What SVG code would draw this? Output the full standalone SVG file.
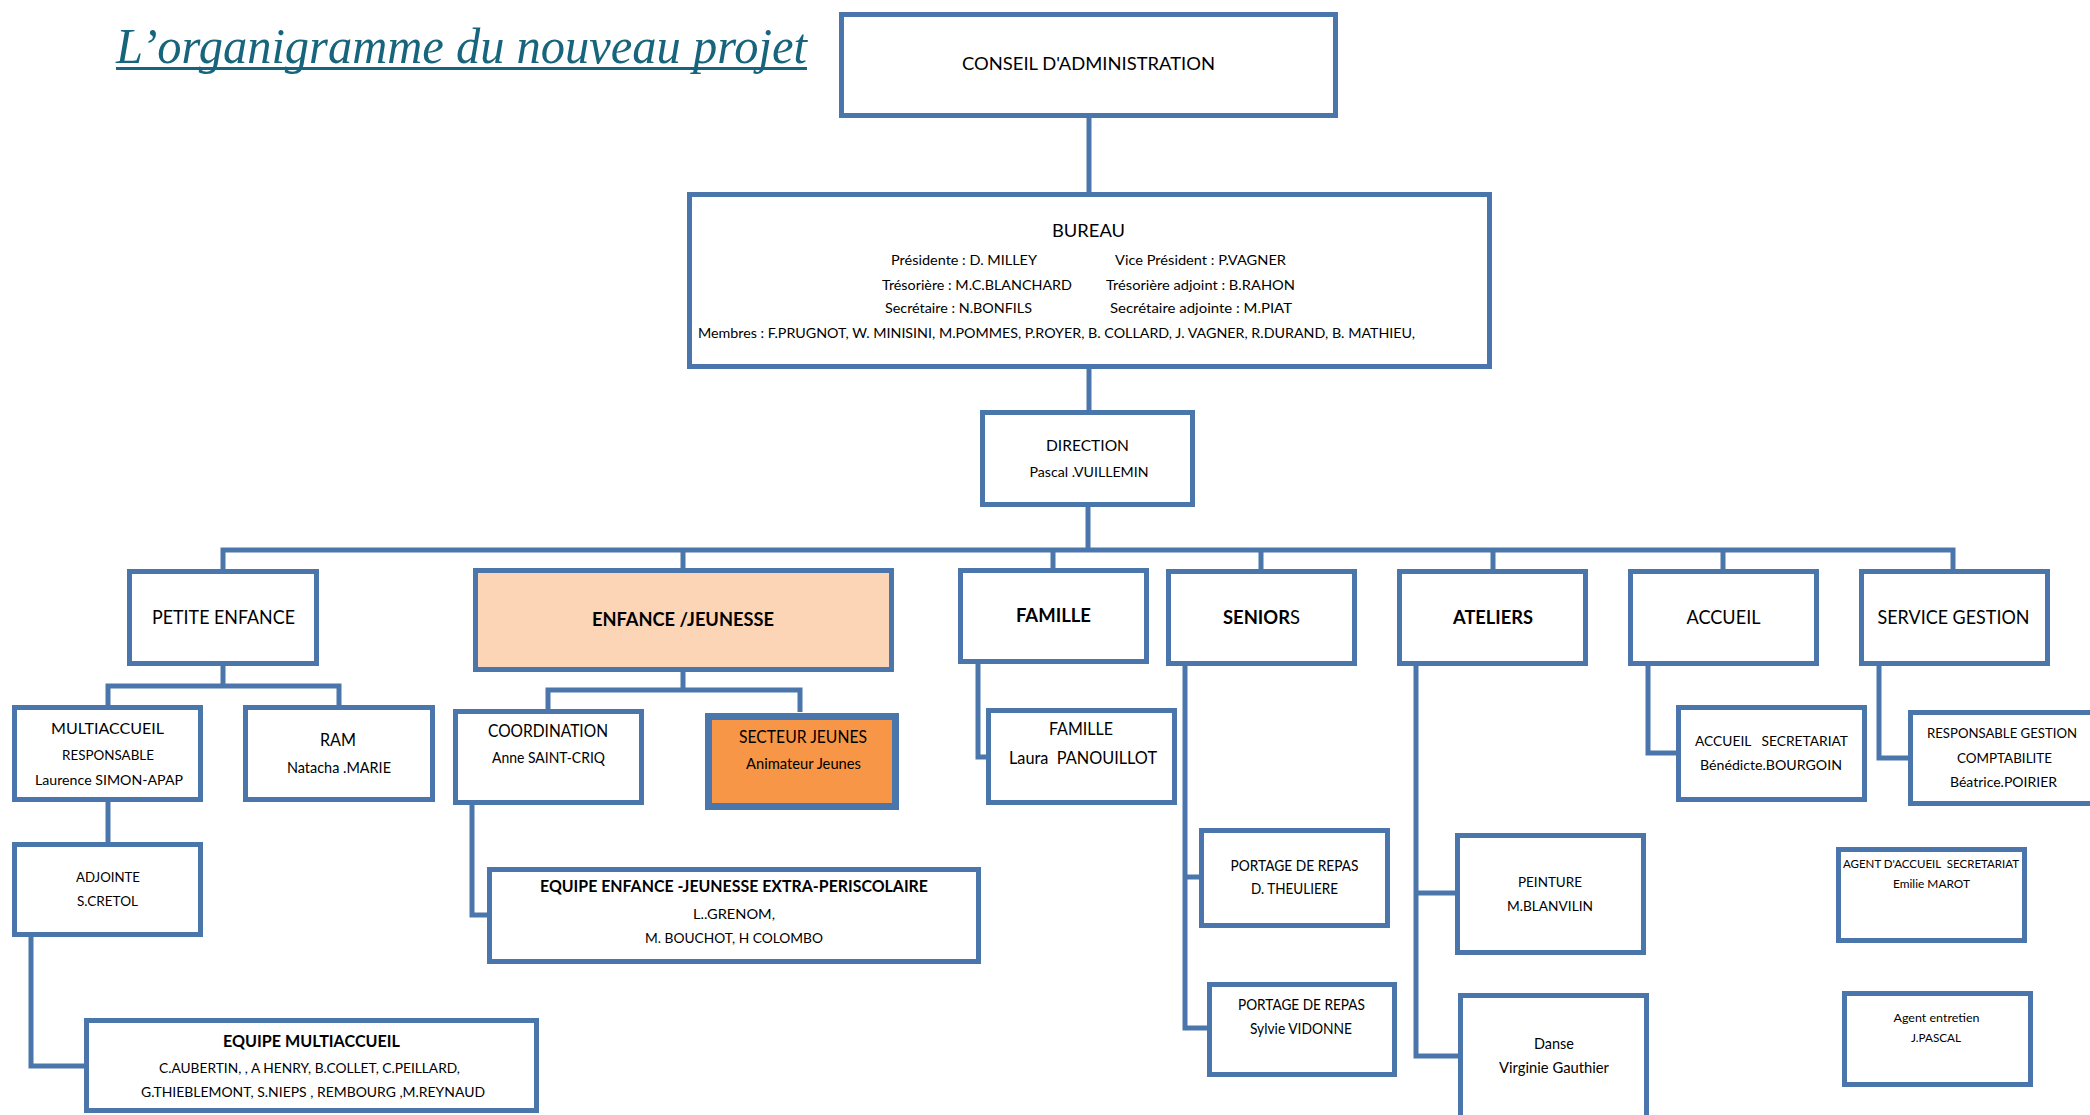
<svg xmlns="http://www.w3.org/2000/svg" width="2090" height="1115" viewBox="0 0 2090 1115">
<style>
.b{fill:#fff;stroke:#4A76AC;stroke-width:5}
.c{fill:none;stroke:#4A76AC;stroke-width:5;stroke-linejoin:miter}
text{font-family:Lato,"Open Sans","Liberation Sans",sans-serif;fill:#000;text-anchor:middle}
.bd{font-weight:bold}
.ttl{font-family:"Liberation Serif",serif;font-style:italic;fill:#17657D;text-anchor:start}
</style>
<rect width="2090" height="1115" fill="#fff"/>
<g id="title">
<text class="ttl" x="116" y="63" font-size="50" textLength="691" lengthAdjust="spacingAndGlyphs">L’organigramme du nouveau projet</text>
<line x1="116" y1="68.5" x2="807" y2="68.5" stroke="#17657D" stroke-width="3"/>
</g>
<g id="connectors">
<path class="c" d="M1089 118V192"/>
<path class="c" d="M1089 369V410"/>
<path class="c" d="M1088 507V550"/>
<path class="c" d="M223 569V550H1953V569"/>
<path class="c" d="M683 550V568M1053 550V568M1261 550V569M1493 550V569M1723 550V569"/>
<path class="c" d="M223 666V686M108 705V686H339V705"/>
<path class="c" d="M108 802V842"/>
<path class="c" d="M31 937V1066H84"/>
<path class="c" d="M683 672V690M548 709V690H800V712"/>
<path class="c" d="M472 805V915H487"/>
<path class="c" d="M978 664V757H986"/>
<path class="c" d="M1185 666V1028H1207M1185 877H1199"/>
<path class="c" d="M1416 666V1056H1458M1416 893H1455"/>
<path class="c" d="M1648 666V753H1676"/>
<path class="c" d="M1879 666V758H1908"/>
</g>
<g id="conseil">
<rect class="b" x="841.5" y="14.5" width="494" height="101"/>
<text x="1088.5" y="70" font-size="17.7" textLength="253" lengthAdjust="spacingAndGlyphs">CONSEIL D'ADMINISTRATION</text>
</g>
<g id="bureau">
<rect class="b" x="689.5" y="194.5" width="800" height="172"/>
<text x="1088.5" y="237" font-size="17.7" textLength="73" lengthAdjust="spacingAndGlyphs">BUREAU</text>
<text x="964" y="265" font-size="14" textLength="146" lengthAdjust="spacingAndGlyphs">Présidente : D. MILLEY</text>
<text x="1200.5" y="265" font-size="14" textLength="171" lengthAdjust="spacingAndGlyphs">Vice Président : P.VAGNER</text>
<text x="977" y="290" font-size="14" textLength="190" lengthAdjust="spacingAndGlyphs">Trésorière : M.C.BLANCHARD</text>
<text x="1200.5" y="290" font-size="14" textLength="189" lengthAdjust="spacingAndGlyphs">Trésorière adjoint : B.RAHON</text>
<text x="958.5" y="313" font-size="14" textLength="147" lengthAdjust="spacingAndGlyphs">Secrétaire : N.BONFILS</text>
<text x="1201" y="313" font-size="14" textLength="182" lengthAdjust="spacingAndGlyphs">Secrétaire adjointe : M.PIAT</text>
<text x="1056.5" y="338" font-size="14" textLength="717" lengthAdjust="spacingAndGlyphs">Membres : F.PRUGNOT, W. MINISINI, M.POMMES, P.ROYER, B. COLLARD, J. VAGNER, R.DURAND, B. MATHIEU,</text>
</g>
<g id="direction">
<rect class="b" x="982.5" y="412.5" width="210" height="92"/>
<text x="1087.5" y="451" font-size="15.3" textLength="83" lengthAdjust="spacingAndGlyphs">DIRECTION</text>
<text x="1089" y="477" font-size="14" textLength="119" lengthAdjust="spacingAndGlyphs">Pascal .VUILLEMIN</text>
</g>
<g id="petite-enfance">
<rect class="b" x="129.5" y="571.5" width="187" height="92"/>
<text x="223.5" y="624" font-size="18.5" textLength="143" lengthAdjust="spacingAndGlyphs">PETITE ENFANCE</text>
</g>
<g id="enfance-jeunesse">
<rect class="b" x="475.5" y="570.5" width="416" height="99" style="fill:#FBD5B5"/>
<text class="bd" x="683" y="626" font-size="18.5" textLength="182" lengthAdjust="spacingAndGlyphs">ENFANCE /JEUNESSE</text>
</g>
<g id="famille">
<rect class="b" x="960.5" y="570.5" width="186" height="91"/>
<text class="bd" x="1053.5" y="622" font-size="19" textLength="75" lengthAdjust="spacingAndGlyphs">FAMILLE</text>
</g>
<g id="seniors">
<rect class="b" x="1168.5" y="571.5" width="186" height="92"/>
<text class="bd" x="1261.5" y="624" font-size="19" textLength="77" lengthAdjust="spacingAndGlyphs">SENIOR<tspan font-weight="normal">S</tspan></text>
</g>
<g id="ateliers">
<rect class="b" x="1399.5" y="571.5" width="186" height="92"/>
<text class="bd" x="1493" y="624" font-size="19" textLength="80" lengthAdjust="spacingAndGlyphs">ATELIERS</text>
</g>
<g id="accueil">
<rect class="b" x="1630.5" y="571.5" width="186" height="92"/>
<text x="1723.5" y="624" font-size="18.5" textLength="74" lengthAdjust="spacingAndGlyphs">ACCUEIL</text>
</g>
<g id="service-gestion">
<rect class="b" x="1861.5" y="571.5" width="186" height="92"/>
<text x="1953.5" y="624" font-size="18.5" textLength="152" lengthAdjust="spacingAndGlyphs">SERVICE GESTION</text>
</g>
<g id="multiaccueil">
<rect class="b" x="14.5" y="707.5" width="186" height="92"/>
<text x="107.5" y="734" font-size="15.8" textLength="113" lengthAdjust="spacingAndGlyphs">MULTIACCUEIL</text>
<text x="108" y="760" font-size="14" textLength="92" lengthAdjust="spacingAndGlyphs">RESPONSABLE</text>
<text x="109" y="785" font-size="14" textLength="148" lengthAdjust="spacingAndGlyphs">Laurence SIMON-APAP</text>
</g>
<g id="ram">
<rect class="b" x="245.5" y="707.5" width="187" height="92"/>
<text x="338" y="746" font-size="16.3" textLength="36" lengthAdjust="spacingAndGlyphs">RAM</text>
<text x="339" y="773" font-size="15" textLength="104" lengthAdjust="spacingAndGlyphs">Natacha .MARIE</text>
</g>
<g id="adjointe">
<rect class="b" x="14.5" y="844.5" width="186" height="90"/>
<text x="108" y="882" font-size="14" textLength="64" lengthAdjust="spacingAndGlyphs">ADJOINTE</text>
<text x="107.5" y="906" font-size="14" textLength="61" lengthAdjust="spacingAndGlyphs">S.CRETOL</text>
</g>
<g id="equipe-multiaccueil">
<rect class="b" x="86.5" y="1020.5" width="450" height="90"/>
<text class="bd" x="311.5" y="1047" font-size="16.3" textLength="177" lengthAdjust="spacingAndGlyphs">EQUIPE MULTIACCUEIL</text>
<text x="309.5" y="1073" font-size="14" textLength="301" lengthAdjust="spacingAndGlyphs">C.AUBERTIN, , A HENRY, B.COLLET, C.PEILLARD,</text>
<text x="313" y="1097" font-size="14" textLength="344" lengthAdjust="spacingAndGlyphs">G.THIEBLEMONT, S.NIEPS , REMBOURG ,M.REYNAUD</text>
</g>
<g id="coordination">
<rect class="b" x="455.5" y="711.5" width="186" height="91"/>
<text x="548" y="737" font-size="17" textLength="120" lengthAdjust="spacingAndGlyphs">COORDINATION</text>
<text x="548.5" y="763" font-size="15" textLength="113" lengthAdjust="spacingAndGlyphs">Anne SAINT-CRIQ</text>
</g>
<g id="secteur-jeunes">
<rect class="b" x="708.5" y="716.5" width="187" height="90" style="fill:#F79646;stroke-width:7"/>
<text x="803" y="743" font-size="16.7" textLength="128" lengthAdjust="spacingAndGlyphs">SECTEUR JEUNES</text>
<text x="803.5" y="769" font-size="15" textLength="115" lengthAdjust="spacingAndGlyphs">Animateur Jeunes</text>
</g>
<g id="equipe-enfance-jeunesse">
<rect class="b" x="489.5" y="869.5" width="489" height="92"/>
<text class="bd" x="734" y="892" font-size="17" textLength="388" lengthAdjust="spacingAndGlyphs">EQUIPE ENFANCE -JEUNESSE EXTRA-PERISCOLAIRE</text>
<text x="734" y="919" font-size="14" textLength="82" lengthAdjust="spacingAndGlyphs">L..GRENOM,</text>
<text x="734" y="943" font-size="14" textLength="178" lengthAdjust="spacingAndGlyphs">M. BOUCHOT, H COLOMBO</text>
</g>
<g id="famille-laura">
<rect class="b" x="988.5" y="710.5" width="186" height="92"/>
<text x="1081" y="735" font-size="16.3" textLength="64" lengthAdjust="spacingAndGlyphs">FAMILLE</text>
<text x="1083" y="764" font-size="16.3" textLength="148" lengthAdjust="spacingAndGlyphs" style="white-space:pre">Laura  PANOUILLOT</text>
</g>
<g id="portage-1">
<rect class="b" x="1201.5" y="830.5" width="186" height="95"/>
<text x="1294.5" y="871" font-size="15" textLength="128" lengthAdjust="spacingAndGlyphs">PORTAGE DE REPAS</text>
<text x="1294.5" y="894" font-size="15" textLength="87" lengthAdjust="spacingAndGlyphs">D. THEULIERE</text>
</g>
<g id="portage-2">
<rect class="b" x="1209.5" y="984.5" width="185" height="90"/>
<text x="1301.5" y="1010" font-size="15" textLength="127" lengthAdjust="spacingAndGlyphs">PORTAGE DE REPAS</text>
<text x="1301" y="1034" font-size="15" textLength="102" lengthAdjust="spacingAndGlyphs">Sylvie VIDONNE</text>
</g>
<g id="peinture">
<rect class="b" x="1457.5" y="835.5" width="186" height="117"/>
<text x="1550" y="887" font-size="14" textLength="64" lengthAdjust="spacingAndGlyphs">PEINTURE</text>
<text x="1550" y="911" font-size="14" textLength="86" lengthAdjust="spacingAndGlyphs">M.BLANVILIN</text>
</g>
<g id="danse">
<rect class="b" x="1460.5" y="995.5" width="186" height="130"/>
<text x="1554" y="1049" font-size="15" textLength="40" lengthAdjust="spacingAndGlyphs">Danse</text>
<text x="1554" y="1073" font-size="15" textLength="110" lengthAdjust="spacingAndGlyphs">Virginie Gauthier</text>
</g>
<g id="accueil-secretariat">
<rect class="b" x="1678.5" y="707.5" width="186" height="92"/>
<text x="1771.5" y="746" font-size="14" textLength="153" lengthAdjust="spacingAndGlyphs" style="white-space:pre">ACCUEIL   SECRETARIAT</text>
<text x="1771" y="770" font-size="14" textLength="142" lengthAdjust="spacingAndGlyphs">Bénédicte.BOURGOIN</text>
</g>
<g id="responsable-gestion">
<rect class="b" x="1910.5" y="712.5" width="190" height="91"/>
<text x="2002" y="738" font-size="14" textLength="150" lengthAdjust="spacingAndGlyphs">RESPONSABLE GESTION</text>
<text x="2004.5" y="763" font-size="14" textLength="95" lengthAdjust="spacingAndGlyphs">COMPTABILITE</text>
<text x="2003.5" y="787" font-size="14" textLength="107" lengthAdjust="spacingAndGlyphs">Béatrice.POIRIER</text>
</g>
<g id="agent-accueil">
<rect class="b" x="1838.5" y="849.5" width="186" height="91"/>
<text x="1931" y="868" font-size="11.6" textLength="176" lengthAdjust="spacingAndGlyphs" style="white-space:pre">AGENT D'ACCUEIL  SECRETARIAT</text>
<text x="1931.5" y="888" font-size="11.6" textLength="77" lengthAdjust="spacingAndGlyphs">Emilie MAROT</text>
</g>
<g id="agent-entretien">
<rect class="b" x="1844.5" y="993.5" width="186" height="91"/>
<text x="1936.5" y="1022" font-size="11.6" textLength="86" lengthAdjust="spacingAndGlyphs">Agent entretien</text>
<text x="1936" y="1042" font-size="11.6" textLength="50" lengthAdjust="spacingAndGlyphs">J.PASCAL</text>
</g>
</svg>
